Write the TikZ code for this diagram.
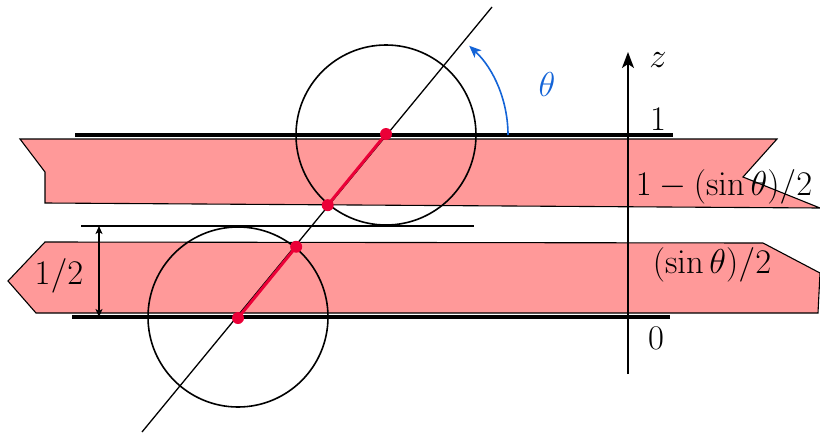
\documentclass[tikz,border=0pt]{standalone}
\usetikzlibrary{arrows.meta,calc}
\definecolor{bandred}{RGB}{255,153,153}
\definecolor{segred}{RGB}{235,0,55}
\definecolor{thetablue}{RGB}{20,100,215}
\tikzset{
  band/.style={fill=bandred, draw=black, line width=0.55pt, line join=miter},
  level/.style={draw=black, line width=1.6pt},
  thinlevel/.style={draw=black, line width=0.7pt},
  ring/.style={draw=black, line width=0.8pt},
  diag/.style={draw=black, line width=0.65pt},
  seg/.style={draw=segred, line width=1.5pt},
  dot/.style={circle, fill=segred, inner sep=0pt, minimum size=6pt},
  lbl/.style={inner sep=0pt, font=\fontsize{16.2}{19}\selectfont},
}
\begin{document}
\begin{tikzpicture}[x=0.5pt, y=-0.5pt]
\useasboundingbox (0,0) rectangle (820,434);
% bands
\draw[band] (20,139) -- (777,139) -- (743,177) -- (820,208) -- (45,203) -- (45,172) -- cycle;
\draw[band] (45,242) -- (763,243) -- (820,273) -- (818,313) -- (36,313) -- (8,281) -- cycle;
% level lines
\draw[level] (75,135) -- (673,135);
\draw[level] (72,317) -- (670,317);
\draw[thinlevel] (81,226) -- (474,226);
% coordinates
\coordinate (ct) at (386,134);
\coordinate (cb) at (238,318);
\coordinate (lA) at (142,432);
\coordinate (lB) at (492,7);
\coordinate (pt) at ($(ct)!46pt!(lA)$);
\coordinate (pb) at ($(cb)!46pt!(lB)$);
% circles
\draw[ring] (386,135) circle[radius=90];
\draw[ring] (238,317) circle[radius=90];
% diagonal
\draw[diag] (lA) -- (lB);
% red segments
\draw[seg] (ct) -- (pt);
\draw[seg] (cb) -- (pb);
\node[dot] (dt1) at (ct) {};
\node[dot] (dt2) at (pt) {};
\node[dot] (db1) at (cb) {};
\node[dot] (db2) at (pb) {};
% theta arc
\draw[thetablue, line width=0.8pt, -{Stealth[length=6pt,width=5pt,inset=1.5pt]}] (508,135) arc[start angle=0, end angle=-47, radius=122];
% half arrow
\coordinate (ha) at (99,226);
\coordinate (hb) at (99,317);
\draw[line width=0.6pt, {Stealth[length=4pt,width=3.5pt,inset=1pt]}-{Stealth[length=4pt,width=3.5pt,inset=1pt]}] (ha) -- (hb);
% axis
\coordinate (a0) at (628,374);
\coordinate (a1) at (628,52);
\draw[line width=0.8pt, -{Stealth[length=8pt,width=6pt,inset=2pt]}] (a0) -- (a1);
% labels
\node[lbl] (lz) at (658,60) {$z$};
\node[lbl] (l1) at (658,119) {$1$};
\node[lbl] (l0) at (656,338) {$0$};
\node[lbl] (lhi) at (724,187) {$1-(\sin\theta)/2$};
\node[lbl] (llo) at (712,265) {$(\sin\theta)/2$};
\node[lbl, text=thetablue] (lth) at (547,84) {$\theta$};
\node[lbl] (lhalf) at (59,276) {$1/2$};
\end{tikzpicture}
\end{document}
